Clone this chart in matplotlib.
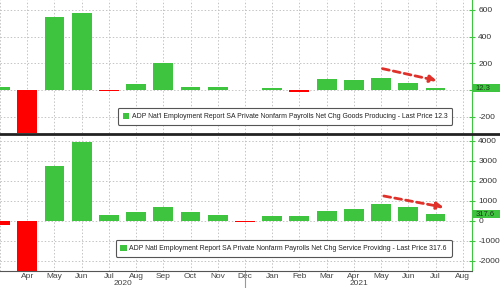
import matplotlib.pyplot as plt
import matplotlib.transforms as mtransforms
from matplotlib.lines import Line2D
from matplotlib.patches import Patch, Rectangle

months = ['Mar', 'Apr', 'May', 'Jun', 'Jul', 'Aug', 'Sep', 'Oct', 'Nov', 'Dec',
          'Jan', 'Feb', 'Mar', 'Apr', 'May', 'Jun', 'Jul', 'Aug']
# Mar 2020 .. Jul 2021 (Aug 2021 has no value yet)
goods = [25, -3500, 550, 580, -5, 45, 205, 20, 25, -3, 15, -15, 85, 75, 90, 55, 12.3]
services = [-200, -16000, 2730, 3920, 285, 450, 670, 420, 285, -50, 235, 235, 470, 585, 835, 670, 317.6]

goods_ticks = [600, 400, 200, 0, -200]
goods_ticklabels = ['600', '400', '200', '', '-200']
serv_ticks = [4000, 3000, 2000, 1000, 0, -1000, -2000]
serv_ticklabels = ['4000', '3000', '2000', '1000', '0', '-1000', '-2000']

goods_label = "ADP Nat'l Employment Report SA Private Nonfarm Payrolls Net Chg Goods Producing - Last Price 12.3"
serv_label = "ADP Natl Employment Report SA Private Nonfarm Payrolls Net Chg Service Providng - Last Price 317.6"

GREEN = '#3fc43f'
RED = '#ff0000'

plt.rcParams['font.family'] = ['Liberation Sans', 'DejaVu Sans']

fig = plt.figure(figsize=(5, 2.88), dpi=100)
ax1 = fig.add_axes([0, 1 - 133 / 288, 472 / 500, 133 / 288])
ax2 = fig.add_axes([0, 1 - 270.7 / 288, 472 / 500, 135.7 / 288])

x = list(range(len(goods)))


def style(ax, vals, ticks, ticklabels, ylim, label, last, tag_h, leg_anchor):
    colors = [GREEN if v >= 0 else RED for v in vals]
    ax.bar(x, vals, width=0.73, color=colors, zorder=2)
    ax.set_xlim(0.05, 17.34)
    ax.set_ylim(*ylim)
    ax.set_xticks(range(len(months)))
    ax.yaxis.tick_right()
    ax.set_yticks(ticks)
    ax.set_yticklabels(ticklabels)
    ax.tick_params(axis='y', direction='inout', length=5, color=GREEN,
                   labelsize=6, labelcolor='#333333', pad=2)
    for s in ['top', 'left', 'bottom']:
        ax.spines[s].set_visible(False)
    ax.spines['right'].set_color(GREEN)
    ax.grid(True, linestyle=(0, (1.5, 2)), color='#c4c4c4', linewidth=0.7, zorder=0)
    ax.set_axisbelow(True)
    h = Patch(facecolor=GREEN, edgecolor='none')
    leg = ax.legend([h], [label], loc='upper left', bbox_to_anchor=leg_anchor,
                    fontsize=4.95, handlelength=0.9, handleheight=1.0, handletextpad=0.4,
                    fancybox=True, framealpha=1, edgecolor='#555555',
                    borderpad=0.7, borderaxespad=0)
    leg.get_frame().set_linewidth(0.8)
    for t in leg.get_texts():
        t.set_color('#222222')
    # last price tag on the right axis
    tr = mtransforms.blended_transform_factory(ax.transAxes, ax.transData)
    ax.add_patch(Rectangle((1.002, last - tag_h / 2), 0.07, tag_h, transform=tr,
                           facecolor=GREEN, edgecolor='none', clip_on=False, zorder=4))
    ax.text(1.008, last, f'{last}', transform=tr, ha='left', va='center',
            fontsize=5.5, color='#1a3a1a', clip_on=False, zorder=5)


style(ax1, goods, goods_ticks, goods_ticklabels, (-322, 674), goods_label, 12.3, 62, (0.25, 0.19))
ax1.tick_params(axis='x', length=0, labelbottom=False)

style(ax2, services, serv_ticks, serv_ticklabels, (-2500, 4285), serv_label, 317.6, 400, (0.245, 0.228))
ax2.tick_params(axis='x', length=0, labelsize=6, labelcolor='#444444', pad=2)
ax2.set_xticklabels([''] + months[1:])

# trend arrows
ax1.annotate('', xy=(16.05, 70), xytext=(14.05, 160),
             arrowprops=dict(arrowstyle='-|>', color='#e0302a', lw=2, linestyle=(0, (2.5, 1.5)),
                             mutation_scale=10, shrinkA=0, shrinkB=0))
ax2.annotate('', xy=(16.3, 670), xytext=(14.1, 1235),
             arrowprops=dict(arrowstyle='-|>', color='#e0302a', lw=2, linestyle=(0, (2.5, 1.5)),
                             mutation_scale=10, shrinkA=0, shrinkB=0))

# year labels and divider
btr = mtransforms.blended_transform_factory(ax2.transData, ax2.transAxes)
ax2.text(4.5, -0.098, '2020', transform=btr, ha='center', va='center', fontsize=6, color='#444444')
ax2.text(13.2, -0.098, '2021', transform=btr, ha='center', va='center', fontsize=6, color='#444444')
ax2.plot([9, 9], [0, -0.14], transform=btr, color='#999999', lw=0.8, clip_on=False)

# panel separator and bottom axis line
fig.add_artist(Line2D([0, 1], [1 - 134 / 288] * 2, color='#222222', lw=2))
fig.add_artist(Line2D([0, 472 / 500], [1 - 270.7 / 288] * 2, color='#555555', lw=0.8))

fig.savefig('out.png', dpi=100)
